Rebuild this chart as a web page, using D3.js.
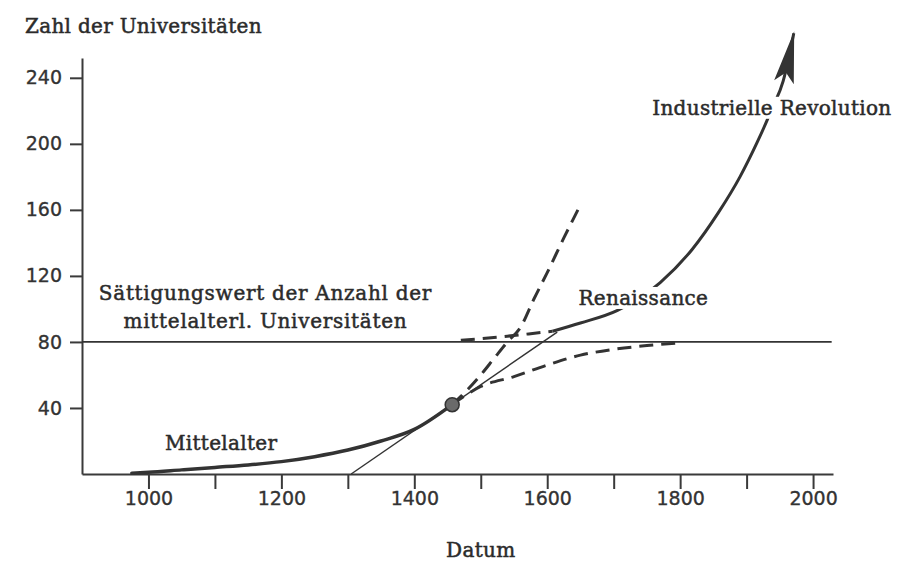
<!DOCTYPE html>
<html>
<head>
<meta charset="utf-8">
<script src="https://cdn.jsdelivr.net/npm/d3@7"></script>
<style>
  body { margin: 0; background: #fff; }
  svg { display: block; }
  .axis text { font-family: "DejaVu Sans", sans-serif; font-size: 19px; fill: #333; stroke: #333; stroke-width: 0.35px; }
  .axis path, .axis line { stroke: #3a3a3a; stroke-width: 2; }
  .lbl { font-family: "DejaVu Serif", serif; font-size: 20px; fill: #2b2b2b; stroke: #2b2b2b; stroke-width: 0.5px; letter-spacing: 0.3px; }
  .lbl.wide { letter-spacing: 0.7px; }
</style>
</head>
<body>
<svg width="901" height="563"></svg>
<script>
// values (year, number of universities)
var medievalYears = [975, 1000, 1050, 1100, 1150, 1200, 1250, 1300, 1350, 1400, 1457];
var medievalVals  = [0.5, 1, 2.5, 4, 5.5, 7.5, 10.5, 14.5, 20, 27, 42];

var inflection = [1457, 42];
var tangentYears = [1305, 1615];
var tangentVals  = [0, 86];

var expYears = [1457, 1480, 1500, 1520, 1540, 1560, 1580, 1600, 1625, 1650];
var expVals  = [42, 51, 60, 70, 80, 89, 106, 122, 143, 163];

var satYears = [1457, 1500, 1550, 1600, 1650, 1700, 1750, 1800];
var satVals  = [42, 53, 59, 66, 72, 75.5, 77.8, 79.5];

var renDashYears = [1470, 1500, 1540, 1575, 1608];
var renDashVals  = [81, 82, 83.5, 85, 86.5];
var renYears = [1608, 1650, 1705, 1770, 1818, 1857, 1890, 1916, 1938, 1955, 1971];
var renVals  = [86.5, 91.5, 99, 116, 136, 158, 180, 201, 221, 238, 267];

var saturation = 80;
var yTicks = [40, 80, 120, 160, 200, 240];
var xTicks = d3.range(1000, 2001, 100);
var xLabelEvery = 200;

var svg = d3.select("svg"),
    x = d3.scaleLinear().domain([900, 2030]).range([82, 833]),
    y = d3.scaleLinear().domain([0, 252]).range([474, 58]);

var line = d3.line()
    .x(function(d) { return x(d[0]); })
    .y(function(d) { return y(d[1]); })
    .curve(d3.curveMonotoneX);

var ink = "#333";

svg.append("defs").append("marker")
    .attr("id", "arrow")
    .attr("markerUnits", "userSpaceOnUse")
    .attr("viewBox", "-52 -12 54 24")
    .attr("markerWidth", 54)
    .attr("markerHeight", 24)
    .attr("refX", 0)
    .attr("refY", 0)
    .attr("orient", "auto")
  .append("path")
    .attr("d", "M2,0 L-50,-10 L-40,0 L-50,10 Z")
    .attr("fill", ink);

// axes
svg.append("g")
    .attr("class", "axis")
    .attr("transform", "translate(0," + y(0) + ")")
    .call(d3.axisBottom(x).tickValues(xTicks).tickSize(15).tickSizeOuter(0).tickPadding(3)
      .tickFormat(function(d) { return d % xLabelEvery === 0 ? d : ""; }));

svg.append("g")
    .attr("class", "axis")
    .attr("transform", "translate(" + x(900) + ",0)")
    .call(d3.axisLeft(y).tickValues(yTicks).tickSize(12).tickSizeOuter(0).tickPadding(8));

// saturation line
svg.append("line")
    .attr("x1", x(900)).attr("x2", x(2028))
    .attr("y1", y(saturation)).attr("y2", y(saturation))
    .attr("stroke", ink).attr("stroke-width", 1.8);

// curves
svg.append("path")
    .datum(d3.zip(tangentYears, tangentVals))
    .attr("d", d3.line().x(function(d) { return x(d[0]); }).y(function(d) { return y(d[1]); }))
    .attr("fill", "none").attr("stroke", ink).attr("stroke-width", 1.5);

svg.append("path")
    .datum(d3.zip(expYears, expVals))
    .attr("d", line)
    .attr("fill", "none").attr("stroke", ink).attr("stroke-width", 3)
    .attr("stroke-dasharray", "14,8");

svg.append("path")
    .datum(d3.zip(satYears, satVals))
    .attr("d", line)
    .attr("fill", "none").attr("stroke", ink).attr("stroke-width", 3)
    .attr("stroke-dasharray", "14,8");

svg.append("path")
    .datum(d3.zip(renDashYears, renDashVals))
    .attr("d", line)
    .attr("fill", "none").attr("stroke", ink).attr("stroke-width", 3)
    .attr("stroke-dasharray", "14,8");

svg.append("path")
    .datum(d3.zip(renYears, renVals))
    .attr("d", line)
    .attr("fill", "none").attr("stroke", ink).attr("stroke-width", 3)
    .attr("marker-end", "url(#arrow)");

svg.append("path")
    .datum(d3.zip(medievalYears, medievalVals))
    .attr("d", line)
    .attr("fill", "none").attr("stroke", ink).attr("stroke-width", 3.5)
    .attr("stroke-linecap", "round");

svg.append("circle")
    .attr("cx", x(inflection[0])).attr("cy", y(inflection[1]))
    .attr("r", 7)
    .attr("fill", "#6a6a6a").attr("stroke", ink).attr("stroke-width", 1.5);

// labels
function label(txt, xv, yv, anchor, knockout, cls) {
  var t = svg.append("text")
      .attr("class", "lbl" + (cls ? " " + cls : ""))
      .attr("x", x(xv)).attr("y", y(yv))
      .attr("text-anchor", anchor || "start")
      .text(txt);
  if (knockout) {
    var b = t.node().getBBox();
    svg.insert("rect", function() { return t.node(); })
        .attr("x", b.x - 3).attr("y", b.y + 1)
        .attr("width", b.width + 6).attr("height", b.height - 2)
        .attr("fill", "#fff");
  }
  return t;
}

label("Mittelalter", 1025, 14.5);
label("Sättigungswert der Anzahl der", 1176, 105.5, "middle", false, "wide");
label("mittelalterl. Universitäten", 1176, 88.5, "middle", false, "wide");
label("Renaissance", 1647, 102.4, "start", true);
label("Industrielle Revolution", 1758, 217.6, "start", true);

svg.append("text")
    .attr("class", "lbl")
    .attr("x", 25).attr("y", 33)
    .text("Zahl der Universitäten");

svg.append("text")
    .attr("class", "lbl")
    .attr("x", x(1500)).attr("y", 557)
    .attr("text-anchor", "middle")
    .text("Datum");
</script>
</body>
</html>
